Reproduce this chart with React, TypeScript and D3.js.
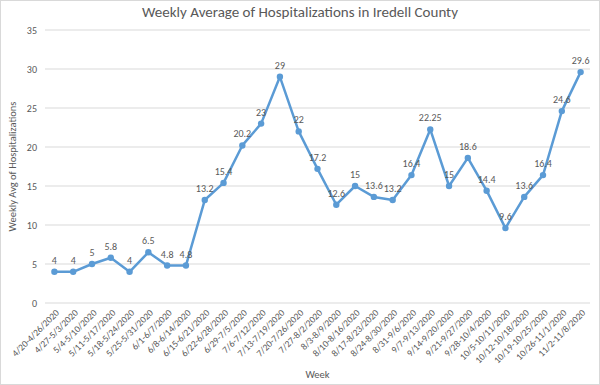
import React from 'react';
import * as d3 from 'd3';

const weeks = [
  '4/20-4/26/2020', '4/27-5/3/2020', '5/4-5/10/2020', '5/11-5/17/2020', '5/18-5/24/2020',
  '5/25-5/31/2020', '6/1-6/7/2020', '6/8-6/14/2020', '6/15-6/21/2020', '6/22-6/28/2020',
  '6/29-7/5/2020', '7/6-7/12/2020', '7/13-7/19/2020', '7/20-7/26/2020', '7/27-8/2/2020',
  '8/3-8/9/2020', '8/10-8/16/2020', '8/17-8/23/2020', '8/24-8/30/2020', '8/31-9/6/2020',
  '9/7-9/13/2020', '9/14-9/20/2020', '9/21-9/27/2020', '9/28-10/4/2020', '10/5-10/11/2020',
  '10/12-10/18/2020', '10/19-10/25/2020', '10/26-11/1/2020', '11/2-11/8/2020',
];
const avgHosp = [
  4, 4, 5, 5.8, 4, 6.5, 4.8, 4.8, 13.2, 15.4, 20.2, 23, 29, 22, 17.2, 12.6, 15, 13.6, 13.2,
  16.4, 22.25, 15, 18.6, 14.4, 9.6, 13.6, 16.4, 24.6, 29.6,
];
const yTicks = [0, 5, 10, 15, 20, 25, 30, 35];

const W = 600;
const H = 385;
const margin = { left: 45, right: 10, top: 30, bottom: 82 };
const font = 'Calibri, Carlito, "Open Sans", sans-serif';

export default function App() {
  const x = d3.scaleBand<string>().domain(weeks).range([margin.left, W - margin.right]);
  const y = d3.scaleLinear().domain([0, 35]).range([H - margin.bottom, margin.top]);
  const cx = (w: string) => (x(w) ?? 0) + x.bandwidth() / 2;
  const line = d3.line<number>()
    .x((_, i) => cx(weeks[i]))
    .y(d => y(d));

  return (
    <svg width={W} height={H} style={{ position: 'absolute', left: 0, top: 0, background: '#fff' }} fontFamily={font}>
      <rect x={0.5} y={0.5} width={W - 1} height={H - 1} fill="#fff" stroke="#d9d9d9" />
      <text x={W / 2} y={17} textAnchor="middle" fontSize={15} fill="#595959">
        Weekly Average of Hospitalizations in Iredell County
      </text>
      {yTicks.map(t => (
        <g key={t}>
          <line x1={margin.left} x2={W - margin.right} y1={y(t)} y2={y(t)} stroke="#d9d9d9" />
          <text x={37} y={y(t)} dy="0.35em" textAnchor="end" fontSize={10} fill="#595959">{t}</text>
        </g>
      ))}
      {weeks.map(w => (
        <text key={w} transform={`translate(${cx(w) + 3},${H - margin.bottom + 8}) rotate(-45)`}
          textAnchor="end" dy="0.35em" fontSize={9.5} fill="#595959">{w}</text>
      ))}
      <text transform={`translate(16,${y(17.5)}) rotate(-90)`} textAnchor="middle" fontSize={10.5} fill="#595959">
        Weekly Avg of Hospitalizations
      </text>
      <text x={(margin.left + W - margin.right) / 2} y={378} textAnchor="middle" fontSize={10.5} fill="#595959">Week</text>
      <path d={line(avgHosp) ?? ''} fill="none" stroke="#5B9BD5" strokeWidth={2.5} strokeLinejoin="round" />
      {avgHosp.map((v, i) => (
        <g key={i}>
          <circle cx={cx(weeks[i])} cy={y(v)} r={3.2} fill="#5B9BD5" />
          <text x={cx(weeks[i])} y={y(v) - 8} textAnchor="middle" fontSize={10} fill="#595959">{v}</text>
        </g>
      ))}
    </svg>
  );
}
